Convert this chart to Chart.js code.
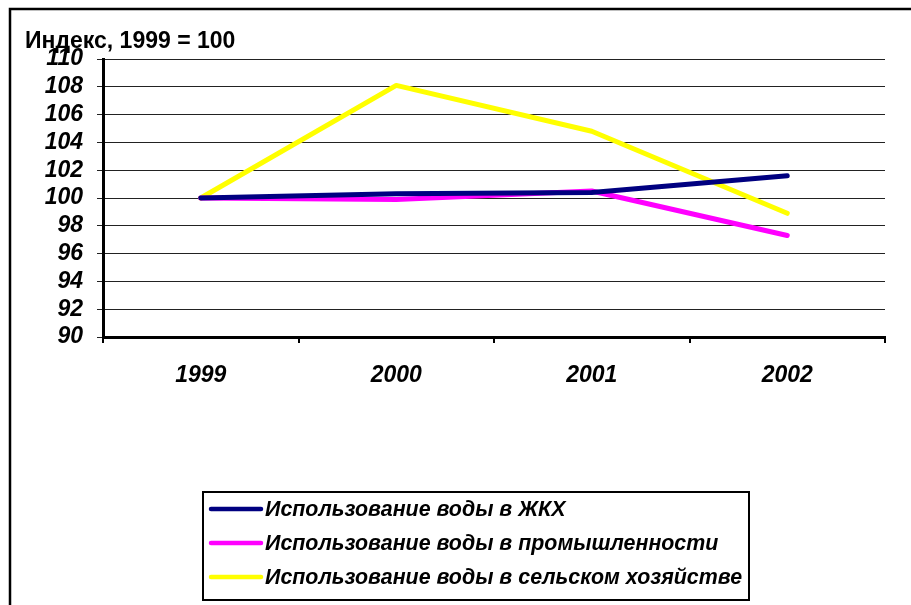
<!DOCTYPE html>
<html>
<head>
<meta charset="utf-8">
<script src="https://cdn.jsdelivr.net/npm/chart.js@4.4.0/dist/chart.umd.min.js"></script>
<style>
  html, body { margin: 0; padding: 0; background: #fff; }
  #wrap { width: 911px; height: 605px; position: relative; }
</style>
</head>
<body>
<div id="wrap"><canvas id="waterChart" width="911" height="605"></canvas></div>
<script>
// данные графика
const years = ["1999", "2000", "2001", "2002"];
const zhkh = [100, 100.3, 100.4, 101.6];
const prom = [100, 99.9, 100.5, 97.3];
const selkhoz = [100, 108.1, 104.8, 98.9];
const seriesNames = [
  "Использование воды в ЖКХ",
  "Использование воды в промышленности",
  "Использование воды в сельском хозяйстве"
];
const yTitle = "Индекс, 1999 = 100";

const FONT = "'Liberation Sans', Arial, sans-serif";

// рамка, подпись оси и легенда
const framePlugin = {
  id: "frame",
  beforeDraw(chart) {
    const ctx = chart.ctx;
    ctx.save();
    ctx.fillStyle = "#fff";
    ctx.fillRect(0, 0, chart.width, chart.height);
    ctx.strokeStyle = "#000";
    ctx.lineWidth = 2.5;
    ctx.beginPath();
    ctx.moveTo(10, chart.height + 2);
    ctx.lineTo(10, 9);
    ctx.lineTo(chart.width + 2, 9);
    ctx.stroke();
    ctx.restore();
  },
  afterDraw(chart) {
    const ctx = chart.ctx;
    ctx.save();
    ctx.fillStyle = "#000";
    ctx.font = "bold 23px " + FONT;
    ctx.textBaseline = "alphabetic";
    ctx.textAlign = "left";
    ctx.fillText(yTitle, 25, 48);

    // легенда
    const bx = 203, by = 492, bw = 546, bh = 108;
    ctx.strokeStyle = "#000";
    ctx.lineWidth = 2;
    ctx.strokeRect(bx, by, bw, bh);
    ctx.font = "italic bold 21.4px " + FONT;
    ctx.textBaseline = "middle";
    chart.data.datasets.forEach(function (ds, i) {
      const y = 509 + i * 34;
      ctx.strokeStyle = ds.borderColor;
      ctx.lineWidth = 4.5;
      ctx.lineCap = "round";
      ctx.beginPath();
      ctx.moveTo(211, y);
      ctx.lineTo(261, y);
      ctx.stroke();
      ctx.fillStyle = "#000";
      ctx.fillText(ds.label, 265, y + 1);
    });
    ctx.restore();
  }
};

function makeDataset(label, data, color) {
  return {
    label: label,
    data: data,
    borderColor: color,
    backgroundColor: color,
    borderWidth: 5,
    borderCapStyle: "round",
    borderJoinStyle: "round",
    pointRadius: 0,
    tension: 0,
    fill: false
  };
}

const ctx = document.getElementById("waterChart").getContext("2d");
new Chart(ctx, {
  type: "line",
  data: {
    labels: years,
    datasets: [
      makeDataset(seriesNames[0], zhkh, "#000080"),
      makeDataset(seriesNames[1], prom, "#FF00FF"),
      makeDataset(seriesNames[2], selkhoz, "#FFFF00")
    ]
  },
  options: {
    responsive: false,
    animation: false,
    devicePixelRatio: 1,
    layout: { padding: { left: 0, top: 59, right: 26, bottom: 0 } },
    plugins: {
      legend: { display: false },
      title: { display: false },
      tooltip: { enabled: false }
    },
    scales: {
      x: {
        offset: true,
        grid: {
          offset: true,
          drawOnChartArea: false,
          drawTicks: true,
          tickLength: 6,
          color: "#000",
          lineWidth: 2
        },
        border: { color: "#000", width: 3 },
        ticks: {
          color: "#000",
          padding: 19,
          font: { family: FONT, size: 23, style: "italic", weight: "bold" }
        },
        afterFit(scale) { scale.height = 268; }
      },
      y: {
        min: 90,
        max: 110,
        ticks: {
          stepSize: 2,
          autoSkip: false,
          color: "#000",
          padding: 14,
          font: { family: FONT, size: 23, style: "italic", weight: "bold" }
        },
        grid: {
          color: "#222",
          lineWidth: 1,
          drawTicks: true,
          tickLength: 6
        },
        border: { color: "#000", width: 3 },
        afterFit(scale) { scale.width = 103; }
      }
    }
  },
  plugins: [framePlugin]
});
</script>
</body>
</html>
